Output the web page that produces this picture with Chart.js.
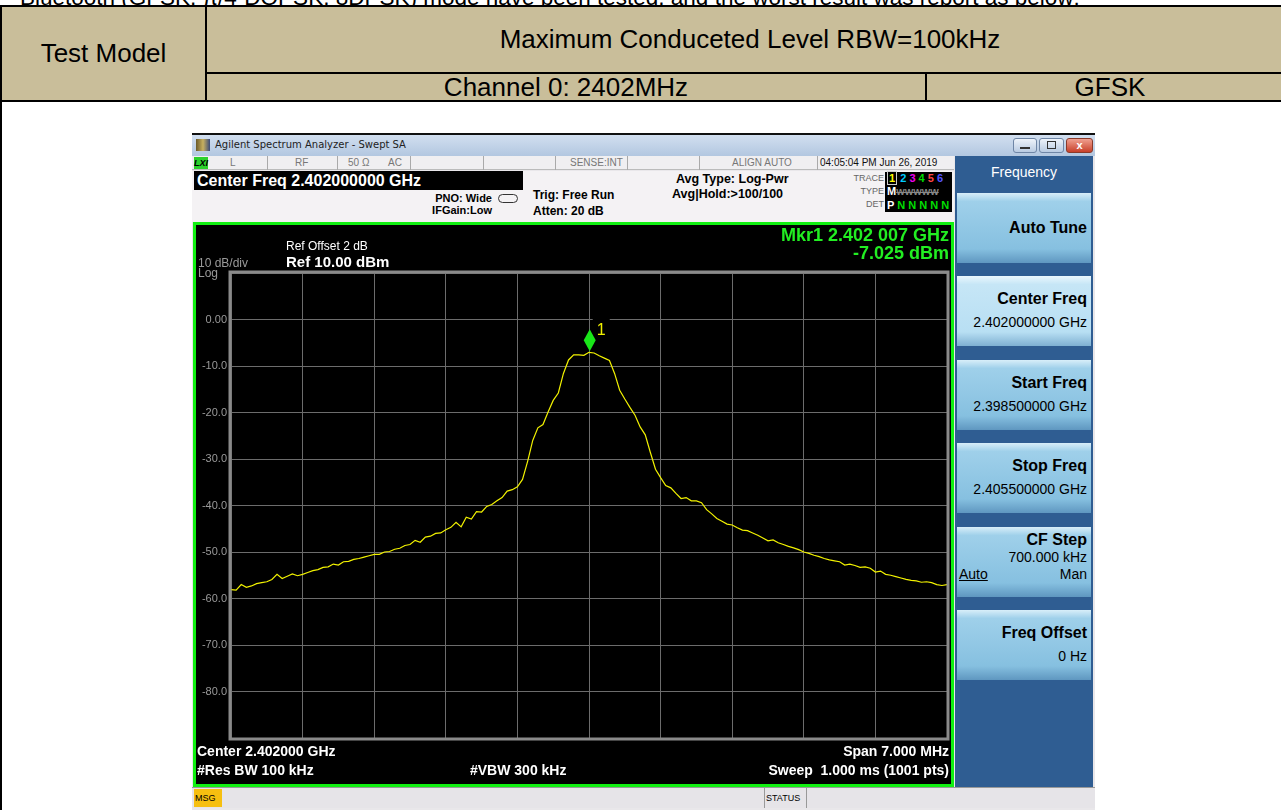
<!DOCTYPE html>
<html>
<head>
<meta charset="utf-8">
<script src="https://cdn.jsdelivr.net/npm/chart.js@4.4.1/dist/chart.umd.min.js"></script>
<style>
body { margin:0; background:#fff; font-family:"Liberation Sans", Arial, sans-serif; }
#page { position:relative; width:1281px; height:810px; overflow:hidden; background:#fff; }
.abs { position:absolute; box-sizing:border-box; white-space:nowrap; }
.tan { background:#c9be9a; border:2px solid #000; display:flex; align-items:center; justify-content:center; font-size:26px; color:#000; }
.st { font-size:10px; color:#777; top:0; line-height:14px; }
.b { font-weight:bold; }
.btn { left:2px; width:134px; height:70px; background:linear-gradient(#d8eef9 0%, #9fd0ea 12%, #86c0e0 80%, #5f97c0 100%); color:#000; text-align:right; padding-right:4px; }
.btn .t { font-weight:bold; font-size:16px; }
.btn .v { font-size:14px; }
</style>
</head>
<body>
<div id="page">
  <div class="abs" style="left:20px;top:-15px;font-size:22.5px;">Bluetooth (GFSK, π/4-DQPSK, 8DPSK) mode have been tested, and the worst result was report as below:</div>

  <div class="abs tan" style="left:0;top:5px;width:207px;height:97px;">Test Model</div>
  <div class="abs tan" style="left:205px;top:5px;width:1090px;height:69px;">Maximum Conduceted Level RBW=100kHz</div>
  <div class="abs tan" style="left:205px;top:72px;width:722px;height:30px;">Channel 0: 2402MHz</div>
  <div class="abs tan" style="left:925px;top:72px;width:370px;height:30px;">GFSK</div>
  <div class="abs" style="left:0;top:100px;width:1290px;height:720px;border:2px solid #000;"></div>

  <!-- analyzer window -->
  <div class="abs" style="left:192px;top:133px;width:903px;height:677px;background:#e9e7ea;border-top:2px solid #111;"></div>
  <div class="abs" style="left:192px;top:135px;width:903px;height:21px;background:linear-gradient(#d2dff0,#b2c7e0);"></div>
  <div class="abs" style="left:196px;top:139px;width:14px;height:12px;background:linear-gradient(90deg,#6a5a2a,#c8b060,#3a4a7a);"></div>
  <div class="abs" style="left:215px;top:139px;font-size:10px;font-family:'DejaVu Sans';color:#222;">Agilent Spectrum Analyzer - Swept SA</div>
  <div class="abs" style="left:1013px;top:138px;width:24px;height:15px;border:1px solid #6f86a6;border-radius:3px;background:linear-gradient(#eef3fa,#b9cbe2);"></div>
  <div class="abs" style="left:1020px;top:147px;width:10px;height:2px;background:#333;"></div>
  <div class="abs" style="left:1039px;top:138px;width:25px;height:15px;border:1px solid #6f86a6;border-radius:3px;background:linear-gradient(#eef3fa,#b9cbe2);"></div>
  <div class="abs" style="left:1047px;top:141px;width:9px;height:8px;border:1px solid #333;"></div>
  <div class="abs" style="left:1066px;top:138px;width:27px;height:15px;border:1px solid #8a3a2a;border-radius:3px;background:linear-gradient(#f0a090,#c8402a);color:#fff;font-size:11px;font-weight:bold;text-align:center;line-height:13px;">x</div>

  <!-- status row -->
  <div class="abs" style="left:192px;top:156px;width:762px;height:14px;background:#f0eff1;border-bottom:1px solid #bbb;">
    <div class="abs" style="left:2px;top:1px;width:14px;height:12px;background:#2bd12b;font-size:9px;font-weight:bold;font-style:italic;color:#000;line-height:12px;">LXI</div>
    <div class="abs st" style="left:38px;">L</div>
    <div class="abs" style="left:75px;top:0;width:1px;height:14px;background:#aaa;"></div>
    <div class="abs st" style="left:103px;">RF</div>
    <div class="abs" style="left:145px;top:0;width:1px;height:14px;background:#aaa;"></div>
    <div class="abs st" style="left:156px;">50 Ω</div>
    <div class="abs st" style="left:196px;">AC</div>
    <div class="abs" style="left:218px;top:0;width:1px;height:14px;background:#aaa;"></div>
    <div class="abs" style="left:291px;top:0;width:1px;height:14px;background:#aaa;"></div>
    <div class="abs" style="left:363px;top:0;width:1px;height:14px;background:#aaa;"></div>
    <div class="abs st" style="left:378px;">SENSE:INT</div>
    <div class="abs" style="left:435px;top:0;width:1px;height:14px;background:#aaa;"></div>
    <div class="abs" style="left:507px;top:0;width:1px;height:14px;background:#aaa;"></div>
    <div class="abs st" style="left:540px;">ALIGN AUTO</div>
    <div class="abs" style="left:625px;top:0;width:1px;height:14px;background:#aaa;"></div>
    <div class="abs st" style="left:628px;color:#111;">04:05:04 PM Jun 26, 2019</div>
  </div>

  <!-- settings row -->
  <div class="abs" style="left:192px;top:171px;width:762px;height:51px;background:#f4f2f4;">
    <div class="abs" style="left:2px;top:0;width:329px;height:19px;background:#000;color:#fff;font-weight:bold;font-size:16px;line-height:19px;padding-left:3px;">Center Freq 2.402000000 GHz</div>
    <div class="abs b" style="left:200px;top:21px;width:100px;font-size:11px;text-align:right;line-height:12px;">PNO: Wide<br>IFGain:Low</div>
    <div class="abs" style="left:306px;top:23px;width:20px;height:9px;border:1px solid #333;border-radius:5px;"></div>
    <div class="abs b" style="left:341px;top:16px;font-size:12px;line-height:16px;">Trig: Free Run<br>Atten: 20 dB</div>
    <div class="abs b" style="left:480px;top:1px;font-size:12.5px;line-height:15px;"><span style="padding-left:4px">Avg Type: Log-Pwr</span><br>Avg|Hold:&gt;100/100</div>
    <div class="abs" style="left:620px;top:1px;width:72px;font-size:9px;color:#666;text-align:right;line-height:13px;">TRACE<br>TYPE<br>DET</div>
    <div class="abs" style="left:693px;top:1px;width:67px;height:40px;background:#000;font-size:11px;font-weight:bold;line-height:13px;padding-left:2px;">
      <span style="color:#ff0;border:1px solid #ccc;padding:0 1px;">1</span> <span style="color:#0cf">2</span> <span style="color:#e0e">3</span> <span style="color:#0d0">4</span> <span style="color:#f44">5</span> <span style="color:#55f">6</span><br>
      <span style="color:#fff">M</span><span style="color:#888;font-size:9px;text-decoration:line-through;">WWWWW</span><br>
      <span style="color:#fff">P</span> <span style="color:#0d0">N N N N N</span>
    </div>
  </div>

  <!-- plot window -->
  <div class="abs" style="left:193px;top:222px;width:761px;height:565px;border:3px solid #11f011;background:#000;">
    <canvas id="trace" width="754" height="558" style="position:absolute;left:0;top:0;"></canvas>
    <div class="abs" style="left:2px;top:33px;font-size:12px;color:#9a9a9a;line-height:10px;">10 dB/div<br>Log</div>
    <div class="abs" style="left:90px;top:14px;font-size:12px;color:#fff;">Ref Offset 2 dB</div>
    <div class="abs b" style="left:90px;top:28px;font-size:15px;color:#fff;">Ref 10.00 dBm</div>
    <div class="abs b" style="right:2px;top:1px;font-size:18px;color:#22ee22;text-align:right;line-height:18px;">Mkr1 2.402 007 GHz<br>-7.025 dBm</div>
    <div class="abs b" style="left:1px;top:517px;font-size:14px;color:#fff;line-height:19px;">Center 2.402000 GHz<br>#Res BW 100 kHz</div>
    <div class="abs b" style="left:274px;top:536px;font-size:14px;color:#fff;line-height:19px;">#VBW 300 kHz</div>
    <div class="abs b" style="right:2px;top:517px;font-size:14px;color:#fff;text-align:right;line-height:19px;">Span 7.000 MHz<br>Sweep&nbsp; 1.000 ms (1001 pts)</div>
  </div>

  <!-- soft keys -->
  <div class="abs" style="left:955px;top:156px;width:138px;height:631px;background:#2f5d92;">
    <div class="abs" style="left:0;top:8px;width:138px;text-align:center;color:#fff;font-size:14px;">Frequency</div>
    <div class="abs btn" style="top:37px;line-height:70px;"><span class="t">Auto Tune</span></div>
    <div class="abs btn" style="top:120px;padding-top:14px;background:linear-gradient(#eaf7fd 0%,#c6e6f6 12%,#b8dff3 80%,#7fb0d2 100%);"><div class="t">Center Freq</div><div class="v" style="margin-top:6px">2.402000000 GHz</div></div>
    <div class="abs btn" style="top:204px;padding-top:14px;"><div class="t">Start Freq</div><div class="v" style="margin-top:6px">2.398500000 GHz</div></div>
    <div class="abs btn" style="top:287px;padding-top:14px;"><div class="t">Stop Freq</div><div class="v" style="margin-top:6px">2.405500000 GHz</div></div>
    <div class="abs btn" style="top:371px;padding-top:4px;"><div class="t">CF Step</div><div class="v" style="line-height:16px">700.000 kHz</div>
      <div class="v" style="line-height:18px;"><span style="float:left;padding-left:2px;text-decoration:underline;">Auto</span>Man</div></div>
    <div class="abs btn" style="top:454px;padding-top:14px;"><div class="t">Freq Offset</div><div class="v" style="margin-top:6px">0 Hz</div></div>
  </div>

  <!-- message bar -->
  <div class="abs" style="left:192px;top:787px;width:903px;height:21px;background:#e6e4e8;border-top:1px solid #999;">
    <div class="abs" style="left:2px;top:1px;width:28px;height:18px;background:#f6bf10;font-size:9px;line-height:18px;padding-left:1px;">MSG</div>
    <div class="abs" style="left:572px;top:0;width:1px;height:20px;background:#999;"></div>
    <div class="abs" style="left:574px;top:1px;font-size:9px;line-height:18px;">STATUS</div>
    <div class="abs" style="left:614px;top:0;width:1px;height:20px;background:#999;"></div>
  </div>
</div>

<script>
// sweep setup, MHz
var startMHz = 2398.5;
var stopMHz = 2405.5;
var stepMHz = 0.05;

// trace level in dBm, one value per 50 kHz
var levels = [
  -58.1, -58.2, -57.0, -57.6, -57.3, -56.8, -56.6, -56.4, -55.9, -54.8,
  -55.7, -55.2, -54.7, -55.1, -54.8, -54.4, -54.0, -53.8, -53.3, -53.2,
  -52.6, -52.8, -52.1, -52.0, -51.6, -51.4, -51.1, -50.8, -50.5, -50.5,
  -50.0, -49.9, -49.4, -49.2, -48.6, -48.4, -47.5, -47.9, -46.8, -46.6,
  -46.0, -45.9, -45.2, -44.7, -43.6, -44.6, -42.5, -42.9, -41.3, -41.4,
  -40.2, -39.8, -39.0, -38.3, -36.9, -36.6, -36.0, -34.4, -30.5, -26.0,
  -23.3, -22.6, -19.9, -17.4, -15.8, -11.6, -8.7, -7.6, -7.6, -7.7,
  -7.05, -7.2, -7.8, -8.3, -8.8, -11.6, -15.2, -17.1, -18.9, -20.6,
  -23.1, -24.8, -28.6, -32.2, -34.0, -35.7, -36.2, -37.4, -38.5, -38.3,
  -39.0, -39.0, -39.4, -40.9, -41.8, -42.8, -43.4, -44.0, -44.2, -44.8,
  -45.3, -45.4, -45.9, -46.4, -47.0, -47.6, -47.4, -48.0, -48.4, -48.8,
  -49.1, -49.5, -50.0, -50.3, -50.7, -51.0, -51.4, -51.7, -51.9, -52.1,
  -52.8, -52.6, -52.9, -53.3, -53.2, -53.5, -54.3, -54.1, -54.8, -55.0,
  -55.3, -55.6, -55.9, -56.1, -56.2, -56.5, -56.4, -56.6, -57.0, -57.2,
  -57.0
];

var xGrid = [2398.5, 2399.2, 2399.9, 2400.6, 2401.3, 2402.0, 2402.7, 2403.4, 2404.1, 2404.8, 2405.5];
var yGrid = [-90, -80, -70, -60, -50, -40, -30, -20, -10, 0, 10];
var yLabels = ['', '-80.0', '-70.0', '-60.0', '-50.0', '-40.0', '-30.0', '-20.0', '-10.0', '0.00', ''];

var mkrFreq = 2402.007;
var mkrLevel = -7.025;

var points = [];
for (var i = 0; i < levels.length; i++) {
  points.push({x: startMHz + i * stepMHz, y: levels[i]});
}

// graticule frame + marker diamond
var saPlugin = {
  id: 'sa',
  afterDatasetsDraw: function(chart) {
    var ctx = chart.ctx, a = chart.chartArea;
    ctx.save();
    ctx.strokeStyle = '#8a8a8a';
    ctx.lineWidth = 3;
    ctx.strokeRect(a.left - 1, a.top - 1, a.right - a.left + 2, a.bottom - a.top + 2);

    var px = chart.scales.x.getPixelForValue(mkrFreq);
    var py = chart.scales.y.getPixelForValue(mkrLevel);
    ctx.fillStyle = '#000';
    ctx.fillRect(px + 3, py - 36, 17, 6);
    ctx.fillStyle = '#19e619';
    ctx.beginPath();
    ctx.moveTo(px, py - 1);
    ctx.lineTo(px + 6, py - 12);
    ctx.lineTo(px, py - 23);
    ctx.lineTo(px - 6, py - 12);
    ctx.closePath();
    ctx.fill();
    ctx.fillStyle = '#f0f000';
    ctx.font = '16px "Liberation Sans", Arial';
    ctx.fillText('1', px + 7, py - 17);
    ctx.restore();
  }
};

new Chart(document.getElementById('trace'), {
  type: 'line',
  data: {
    datasets: [{
      data: points,
      borderColor: '#f2f200',
      borderWidth: 1.2,
      pointRadius: 0,
      tension: 0,
      fill: false
    }]
  },
  options: {
    responsive: false,
    animation: false,
    layout: { padding: { left: 0, top: 48, right: 3, bottom: 45 } },
    plugins: { legend: { display: false }, tooltip: { enabled: false } },
    scales: {
      x: {
        type: 'linear', min: startMHz, max: stopMHz,
        afterBuildTicks: function(s) { s.ticks = xGrid.map(function(v) { return {value: v}; }); },
        ticks: { display: false },
        grid: { color: '#6c6c6c', drawTicks: false },
        border: { display: false }
      },
      y: {
        min: -90, max: 10,
        afterBuildTicks: function(s) { s.ticks = yGrid.map(function(v) { return {value: v}; }); },
        afterFit: function(s) { s.width = 35; },
        ticks: {
          color: '#9a9a9a', padding: 4,
          font: { size: 11, family: '"Liberation Sans", Arial' },
          callback: function(v) { return yLabels[yGrid.indexOf(v)]; }
        },
        grid: { color: '#6c6c6c', drawTicks: false },
        border: { display: false }
      }
    }
  },
  plugins: [saPlugin]
});
</script>
</body>
</html>
